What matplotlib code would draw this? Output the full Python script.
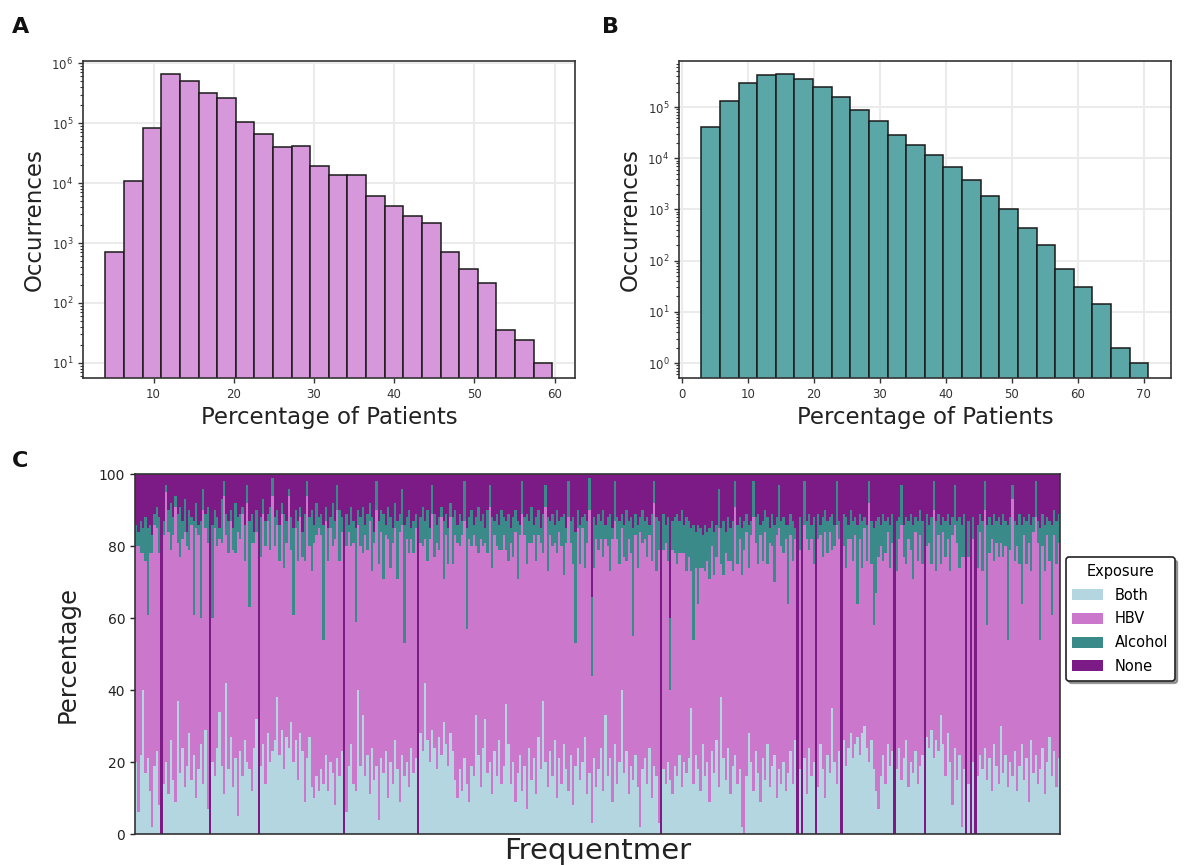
import numpy as np
import matplotlib
matplotlib.use("Agg")
import matplotlib.pyplot as plt
from matplotlib.patches import Patch

# ---------------- Panel A / B: histograms of patient percentages ----------------
a_edge_lo, a_edge_hi = 4.0, 59.7
a_counts = [710, 11000, 83000, 665000, 500000, 316000, 264000, 104000, 66000,
            40000, 41000, 19000, 13500, 13500, 6000, 4150, 2770, 2130, 710,
            370, 215, 35, 24, 10]

b_edge_lo, b_edge_hi = 2.92, 70.7
b_counts = [41000, 131000, 294000, 415000, 440000, 357000, 245000, 157000,
            87000, 53000, 29000, 17800, 11500, 6800, 3800, 1870, 1000, 425,
            200, 68, 30, 14, 2, 1]

# ---------------- Panel C: exposure share per frequentmer ----------------
exposure_labels = ["Both", "HBV", "Alcohol", "None"]

both = [
    20, 6, 22, 40, 17, 21, 12, 2, 19, 23, 8, 0, 14, 20, 11, 26, 15, 9, 37, 17,
    24, 13, 19, 28, 15, 22, 10, 18, 25, 14, 29, 7, 0, 20, 16, 24, 34, 19, 11, 42,
    18, 27, 13, 21, 5, 23, 16, 26, 20, 18, 12, 24, 32, 0, 19, 25, 14, 28, 20, 23,
    26, 38, 22, 29, 18, 27, 24, 31, 20, 26, 15, 28, 23, 9, 21, 27, 13, 10, 16, 12,
    18, 14, 22, 12, 20, 17, 8, 21, 16, 23, 0, 6, 19, 25, 14, 12, 40, 19, 33, 16,
    22, 11, 24, 15, 19, 4, 21, 17, 23, 10, 20, 14, 26, 18, 9, 22, 16, 20, 13, 24,
    17, 21, 0, 28, 23, 42, 26, 20, 29, 24, 18, 27, 22, 31, 25, 19, 28, 23, 15, 10,
    18, 12, 21, 14, 9, 19, 16, 33, 22, 13, 24, 32, 17, 20, 11, 23, 16, 26, 14, 19,
    36, 25, 14, 20, 9, 17, 22, 12, 19, 7, 24, 15, 21, 11, 27, 18, 37, 20, 13, 23,
    16, 26, 10, 21, 14, 25, 18, 12, 22, 8, 19, 24, 15, 20, 27, 11, 17, 3, 21, 13,
    18, 24, 12, 33, 16, 21, 9, 25, 14, 20, 40, 17, 23, 11, 19, 15, 22, 13, 2, 18,
    21, 14, 24, 10, 19, 16, 3, 0, 18, 14, 20, 15, 11, 19, 16, 22, 13, 20, 17, 21,
    35, 14, 22, 18, 12, 25, 16, 20, 9, 23, 17, 26, 13, 38, 21, 15, 24, 11, 19, 22,
    14, 18, 2, 0, 16, 28, 20, 12, 23, 17, 9, 21, 15, 25, 13, 19, 22, 10, 18, 14,
    20, 12, 17, 23, 14, 26, 0, 18, 0, 21, 11, 24, 16, 20, 0, 13, 25, 18, 10, 22,
    17, 35, 20, 14, 23, 0, 26, 19, 24, 28, 21, 25, 27, 22, 28, 30, 24, 20, 26, 18,
    12, 7, 16, 22, 14, 25, 19, 23, 0, 18, 24, 15, 21, 26, 13, 20, 17, 23, 14, 19,
    22, 0, 27, 24, 29, 21, 26, 23, 33, 25, 16, 28, 20, 8, 24, 15, 22, 2, 18, 0,
    14, 0, 20, 0, 16, 22, 18, 24, 15, 21, 12, 25, 19, 14, 30, 17, 22, 13, 20, 16,
    23, 12, 19, 25, 15, 21, 9, 26, 17, 22, 14, 18, 24, 11, 20, 27, 16, 23, 13, 21,
]

hbv = [
    60, 74, 56, 38, 59, 40, 66, 76, 67, 62, 70, 0, 69, 75, 73, 53, 68, 82, 44, 60,
    58, 71, 61, 51, 71, 39, 75, 65, 35, 76, 56, 74, 0, 40, 69, 56, 48, 62, 83, 41,
    60, 60, 66, 57, 79, 59, 73, 50, 72, 45, 69, 57, 52, 0, 58, 64, 66, 59, 59, 71,
    54, 48, 54, 60, 56, 54, 70, 48, 41, 59, 61, 60, 54, 67, 73, 53, 60, 71, 67, 73,
    65, 40, 65, 64, 65, 63, 74, 69, 60, 61, 0, 74, 65, 55, 67, 47, 46, 61, 45, 67,
    57, 76, 49, 66, 71, 71, 63, 54, 60, 72, 54, 67, 59, 53, 75, 64, 37, 62, 65, 58,
    61, 64, 0, 53, 57, 40, 50, 62, 60, 53, 63, 52, 66, 40, 58, 56, 60, 52, 68, 71,
    62, 71, 66, 43, 73, 61, 67, 47, 56, 69, 56, 49, 61, 71, 63, 60, 64, 53, 65, 64,
    43, 51, 67, 57, 75, 54, 61, 77, 64, 68, 57, 66, 62, 65, 56, 63, 41, 71, 60, 60,
    64, 55, 68, 63, 66, 47, 63, 76, 59, 67, 34, 61, 60, 65, 47, 70, 73, 41, 53, 69,
    61, 58, 65, 49, 64, 52, 73, 62, 68, 55, 45, 60, 53, 71, 59, 40, 61, 61, 82, 63,
    61, 63, 59, 66, 73, 57, 76, 0, 61, 67, 56, 25, 68, 59, 59, 56, 65, 58, 56, 56,
    38, 40, 52, 46, 62, 49, 57, 56, 62, 57, 55, 51, 72, 37, 51, 63, 52, 65, 54, 69,
    61, 64, 70, 79, 68, 46, 63, 76, 58, 58, 74, 55, 69, 50, 68, 61, 48, 73, 67, 66,
    58, 70, 47, 60, 62, 56, 0, 61, 0, 65, 71, 55, 66, 55, 0, 69, 58, 59, 74, 56,
    67, 44, 60, 72, 59, 0, 54, 55, 58, 54, 55, 58, 37, 60, 46, 55, 52, 72, 49, 40,
    55, 70, 64, 54, 64, 59, 55, 58, 0, 55, 58, 71, 56, 49, 69, 59, 54, 61, 62, 64,
    53, 0, 53, 57, 46, 69, 47, 60, 42, 59, 61, 54, 53, 75, 62, 66, 52, 75, 59, 0,
    63, 0, 62, 0, 58, 62, 55, 66, 43, 57, 70, 51, 62, 63, 51, 60, 58, 41, 59, 77,
    53, 68, 56, 39, 68, 54, 72, 47, 67, 66, 67, 36, 56, 62, 63, 49, 45, 60, 62, 60,
]

alcohol = [
    6, 4, 9, 7, 12, 24, 8, 5, 3, 6, 10, 0, 4, 2, 6, 13, 5, 3, 8, 14,
    5, 9, 4, 11, 2, 26, 7, 3, 27, 6, 4, 10, 0, 26, 5, 8, 3, 12, 4, 6,
    9, 3, 6, 14, 4, 7, 2, 10, 5, 24, 8, 3, 6, 0, 11, 4, 7, 2, 12, 5,
    8, 4, 10, 3, 15, 6, 2, 9, 24, 5, 11, 3, 7, 13, 4, 8, 17, 5, 9, 3,
    6, 32, 4, 9, 3, 12, 5, 7, 14, 4, 0, 9, 2, 11, 6, 26, 4, 8, 13, 3,
    10, 5, 15, 3, 8, 12, 6, 18, 3, 9, 14, 4, 7, 16, 5, 10, 33, 6, 12, 3,
    9, 4, 0, 7, 11, 5, 14, 3, 8, 12, 5, 9, 3, 16, 6, 10, 4, 13, 7, 5,
    9, 4, 11, 28, 6, 10, 3, 8, 13, 5, 9, 4, 12, 6, 14, 4, 9, 7, 11, 5,
    8, 13, 4, 11, 6, 16, 3, 9, 5, 14, 6, 10, 3, 12, 7, 4, 11, 6, 15, 4,
    9, 5, 12, 3, 8, 17, 4, 10, 6, 13, 31, 5, 11, 3, 15, 6, 9, 22, 14, 4,
    10, 5, 13, 4, 8, 16, 3, 11, 6, 12, 4, 9, 14, 5, 10, 30, 6, 12, 4, 9,
    5, 11, 3, 13, 6, 15, 8, 0, 10, 5, 12, 20, 8, 10, 14, 9, 12, 8, 15, 10,
    12, 32, 10, 22, 11, 9, 13, 8, 14, 7, 12, 9, 11, 10, 15, 6, 12, 9, 14, 7,
    11, 6, 13, 8, 5, 12, 4, 10, 7, 14, 3, 11, 6, 13, 4, 9, 16, 5, 12, 7,
    10, 4, 22, 6, 11, 3, 0, 9, 0, 12, 5, 10, 4, 13, 0, 7, 3, 11, 6, 9,
    4, 10, 6, 12, 5, 0, 9, 14, 4, 8, 11, 5, 22, 7, 13, 3, 10, 6, 12, 27,
    20, 11, 6, 13, 9, 4, 12, 8, 0, 14, 6, 11, 9, 13, 5, 10, 15, 4, 11, 7,
    12, 0, 9, 5, 13, 8, 14, 6, 11, 4, 10, 7, 13, 5, 11, 6, 14, 9, 12, 0,
    10, 0, 6, 0, 12, 5, 14, 8, 28, 10, 4, 13, 6, 11, 5, 12, 7, 32, 9, 4,
    11, 6, 14, 22, 5, 12, 8, 13, 4, 10, 6, 31, 9, 13, 5, 11, 25, 7, 12, 8,
]

none = [
    14, 16, 13, 15, 12, 15, 14, 17, 11, 9, 12, 100, 13, 3, 10, 8, 12, 6, 11, 9,
    13, 7, 16, 10, 12, 13, 8, 14, 13, 4, 11, 9, 100, 14, 10, 12, 15, 7, 2, 11,
    13, 10, 15, 8, 12, 11, 9, 14, 3, 13, 11, 16, 10, 100, 12, 7, 13, 11, 9, 1,
    12, 10, 14, 8, 11, 13, 4, 12, 15, 10, 13, 9, 16, 11, 2, 12, 10, 14, 8, 12,
    11, 14, 9, 15, 12, 8, 13, 3, 10, 12, 100, 11, 14, 9, 13, 15, 10, 12, 9, 14,
    11, 8, 12, 16, 2, 13, 10, 11, 14, 9, 12, 15, 8, 13, 11, 4, 14, 12, 10, 15,
    13, 11, 100, 12, 9, 13, 10, 15, 3, 11, 14, 12, 9, 13, 11, 15, 8, 12, 10, 14,
    11, 13, 2, 15, 12, 10, 14, 12, 9, 13, 11, 15, 10, 3, 12, 13, 11, 14, 10, 12,
    13, 11, 15, 12, 10, 13, 14, 2, 12, 11, 13, 9, 14, 12, 10, 15, 11, 3, 12, 13,
    11, 14, 10, 13, 12, 11, 15, 2, 13, 12, 16, 10, 14, 12, 11, 13, 1, 34, 12, 14,
    11, 13, 10, 14, 12, 11, 15, 2, 12, 13, 11, 14, 10, 13, 12, 15, 11, 14, 12, 10,
    13, 12, 14, 11, 2, 12, 13, 100, 11, 14, 12, 40, 13, 12, 11, 13, 10, 14, 12, 13,
    15, 14, 16, 14, 15, 17, 14, 16, 15, 13, 16, 14, 4, 15, 13, 16, 12, 15, 13, 2,
    14, 12, 15, 13, 11, 14, 13, 2, 12, 11, 14, 13, 10, 12, 15, 11, 14, 12, 3, 13,
    12, 14, 14, 11, 13, 15, 100, 12, 100, 2, 13, 11, 14, 12, 100, 11, 14, 12, 10, 13,
    12, 11, 14, 2, 13, 100, 11, 12, 14, 10, 13, 12, 14, 11, 13, 12, 14, 2, 13, 15,
    13, 12, 14, 11, 13, 12, 14, 11, 100, 13, 12, 3, 14, 12, 13, 11, 14, 12, 13, 10,
    13, 100, 11, 14, 12, 2, 13, 11, 14, 12, 13, 11, 14, 12, 3, 13, 12, 14, 11, 100,
    13, 100, 12, 100, 14, 11, 13, 2, 14, 12, 14, 11, 13, 12, 14, 11, 13, 14, 12, 3,
    13, 14, 11, 14, 12, 13, 11, 14, 12, 2, 13, 15, 11, 14, 12, 13, 14, 10, 13, 11,
]

exposure_colors = ["#B4D6E0", "#CB77CC", "#3A8A8A", "#7C1A86"]
hist_a_color = "#D797DB"
hist_b_color = "#5BA6A6"
spine_color = "#333333"
grid_color = "#EBEBEB"

fig = plt.figure(figsize=(11.85, 8.65), dpi=100)


def style_hist_axes(ax):
    ax.set_yscale("log")
    ax.set_axisbelow(True)
    ax.grid(True, which="major", color=grid_color, linewidth=1.5)
    for sp in ax.spines.values():
        sp.set_color(spine_color)
        sp.set_linewidth(1.2)
    ax.tick_params(axis="both", which="major", labelsize=8.5, colors=spine_color,
                   length=3.5, width=1)
    ax.tick_params(axis="y", which="minor", length=2, width=0.8, colors=spine_color)
    ax.set_xlabel("Percentage of Patients", fontsize=16.5, color="#222222")
    ax.set_ylabel("Occurrences", fontsize=16.5, color="#222222")


def draw_hist(ax, lo, hi, counts, color):
    edges = np.linspace(lo, hi, len(counts) + 1)
    ax.bar(edges[:-1], counts, width=np.diff(edges), align="edge",
           color=color, edgecolor="#1a1a1a", linewidth=1.1)


# Panel A
ax_a = fig.add_axes([0.070, 0.563, 0.415, 0.366])
draw_hist(ax_a, a_edge_lo, a_edge_hi, a_counts, hist_a_color)
style_hist_axes(ax_a)
ax_a.set_xlim(1.2, 62.5)
ax_a.set_ylim(5.6, 1.07e6)
ax_a.set_xticks([10, 20, 30, 40, 50, 60])

# Panel B
ax_b = fig.add_axes([0.573, 0.563, 0.415, 0.366])
draw_hist(ax_b, b_edge_lo, b_edge_hi, b_counts, hist_b_color)
style_hist_axes(ax_b)
ax_b.set_xlim(-0.47, 74.1)
ax_b.set_ylim(0.51, 7.8e5)
ax_b.set_xticks([0, 10, 20, 30, 40, 50, 60, 70])

# Panel C: stacked percentage bars
series = [np.array(both, float), np.array(hbv, float),
          np.array(alcohol, float), np.array(none, float)]
total = sum(series)
shares = [s / total * 100 for s in series]
x = np.arange(len(both))

ax_c = fig.add_axes([0.1139, 0.0358, 0.7806, 0.416])
bottom = np.zeros(len(both))
for share, color, label in zip(shares, exposure_colors, exposure_labels):
    ax_c.bar(x, share, width=1.0, bottom=bottom, color=color, linewidth=0,
             label=label, antialiased=False)
    bottom += share
ax_c.set_xlim(-0.5, len(both) - 0.5)
ax_c.set_ylim(0, 100)
ax_c.set_xticks([])
ax_c.set_yticks([0, 20, 40, 60, 80, 100])
ax_c.tick_params(axis="y", labelsize=10, colors="#222222", length=3.5, width=1)
for sp in ax_c.spines.values():
    sp.set_color(spine_color)
    sp.set_linewidth(1.2)
ax_c.set_xlabel("Frequentmer", fontsize=21, color="#222222", labelpad=2)
ax_c.set_ylabel("Percentage", fontsize=17.5, color="#222222", labelpad=14)

handles = [Patch(facecolor=c, label=l) for c, l in zip(exposure_colors, exposure_labels)]
leg = ax_c.legend(handles=handles, title="Exposure", loc="upper left",
                  bbox_to_anchor=(1.0, 0.785), fontsize=10.5, title_fontsize=10.5,
                  frameon=True, shadow=True, fancybox=True, borderpad=0.45,
                  borderaxespad=0.4, handlelength=2.1, handleheight=0.8,
                  handletextpad=0.8, labelspacing=0.6)
leg.get_frame().set_edgecolor("#222222")
leg.get_frame().set_linewidth(1.2)

# Panel letters
for letter, (fx, fy) in {"A": (0.010, 0.962), "B": (0.508, 0.962),
                         "C": (0.010, 0.460)}.items():
    fig.text(fx, fy, letter, fontsize=16, fontweight="bold", color="#111111")

fig.savefig("out.png", dpi=100)
